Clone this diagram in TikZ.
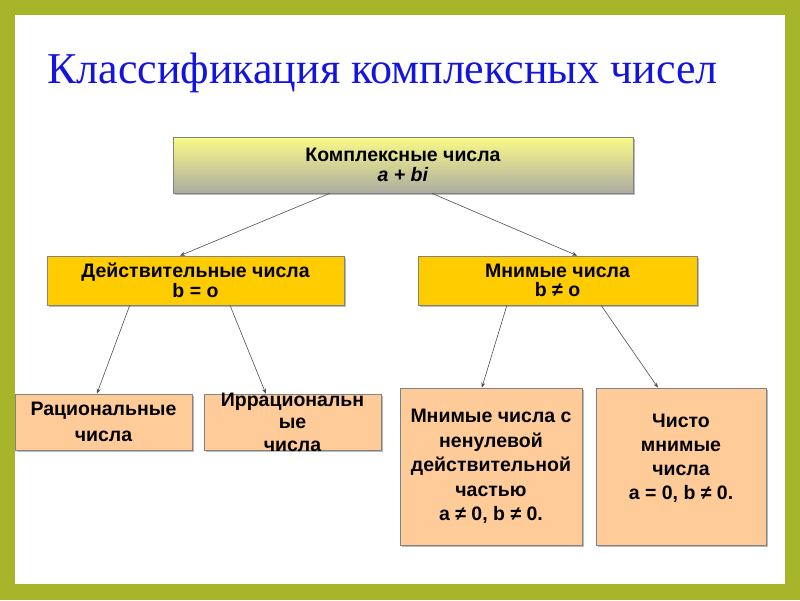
\documentclass[tikz,border=0pt]{standalone}
\usepackage{fontspec}
\setmainfont{Liberation Serif}
\newfontfamily\boxfont{Liberation Sans}
\usetikzlibrary{arrows.meta,calc,shadows}
\definecolor{frameG}{RGB}{166,181,41}
\definecolor{titleB}{RGB}{20,20,225}
\definecolor{goldY}{RGB}{255,204,0}
\definecolor{peachP}{RGB}{255,204,153}
\definecolor{topY}{RGB}{250,250,135}
\definecolor{botG}{RGB}{172,172,162}
\definecolor{edgeG}{RGB}{130,130,130}
\definecolor{arrowC}{RGB}{80,80,80}
\begin{document}
\begin{tikzpicture}[x=1pt,y=-1pt,
  box/.style={draw=edgeG,line width=0.8pt,rectangle,inner sep=0pt,align=center,
    font=\boxfont\bfseries\fontsize{19.5}{19.5}\selectfont,
    drop shadow={shadow xshift=1.5pt,shadow yshift=-1.5pt,fill=black!45,opacity=0.6}},
  goldbox/.style={box,fill=goldY},
  peachbox/.style={box,fill=peachP},
  conn/.style={draw=arrowC,line width=0.6pt,-{Stealth[length=5pt,width=4pt]}}
]
\fill[frameG] (0,0) rectangle (800,600);
\fill[white] (15,15) rectangle (785,584);
\useasboundingbox (0,0) rectangle (800,600);

\node[anchor=base west,text=titleB,font=\fontsize{44}{50}\selectfont,inner sep=0pt] (title) at (47,83) {Классификация комплексных чисел};

\node[box,top color=topY,bottom color=botG,minimum width=460pt,minimum height=56pt] (top) at (403,165)
  {Комплексные числа\\\textit{a + bi}};

\node[goldbox,minimum width=297pt,minimum height=49pt] (real) at (195.5,280.5) {Действительные числа\\b = o};
\node[goldbox,minimum width=279pt,minimum height=49pt] (imag) at (557.5,280.5) {Мнимые числа\\b ≠ o};

\node[peachbox,minimum width=177pt,minimum height=56pt,font=\boxfont\bfseries\fontsize{19.5}{26}\selectfont] (rat) at (103.5,422) {Рациональные\\числа};
\node[peachbox,minimum width=177pt,minimum height=56pt] (irr) at (292.5,422) {};
\node[align=center,inner sep=0pt,font=\boxfont\bfseries\fontsize{19.5}{22.5}\selectfont] (irrT) at (irr.center) {Иррациональн\\ые\\числа};

\node[peachbox,minimum width=182pt,minimum height=157pt,font=\boxfont\bfseries\fontsize{19.5}{24.5}\selectfont] (imre) at (491,466.5) {Мнимые числа с\\ненулевой\\действительной\\частью\\a ≠ 0, b ≠ 0.};
\node[peachbox,minimum width=170pt,minimum height=157pt] (pure) at (681,466.5) {};
\node[align=center,inner sep=0pt,font=\boxfont\bfseries\fontsize{19.5}{24}\selectfont] (pureT) at ($(pure.center)+(0,-8)$) {Чисто\\мнимые\\числа\\a = 0, b ≠ 0.};

\draw[conn] ($(top.south west)!0.341!(top.south east)$) -- ($(real.north west)!0.448!(real.north east)$);
\draw[conn] ($(top.south west)!0.563!(top.south east)$) -- ($(imag.north west)!0.57!(imag.north east)$);
\draw[conn] ($(real.south west)!0.279!(real.south east)$) -- ($(rat.north west)!0.463!(rat.north east)$);
\draw[conn] ($(real.south west)!0.616!(real.south east)$) -- ($(irr.north west)!0.35!(irr.north east)$);
\draw[conn] ($(imag.south west)!0.319!(imag.south east)$) -- ($(imre.north west)!0.45!(imre.north east)$);
\draw[conn] ($(imag.south west)!0.656!(imag.south east)$) -- ($(pure.north west)!0.365!(pure.north east)$);
\end{tikzpicture}
\end{document}
